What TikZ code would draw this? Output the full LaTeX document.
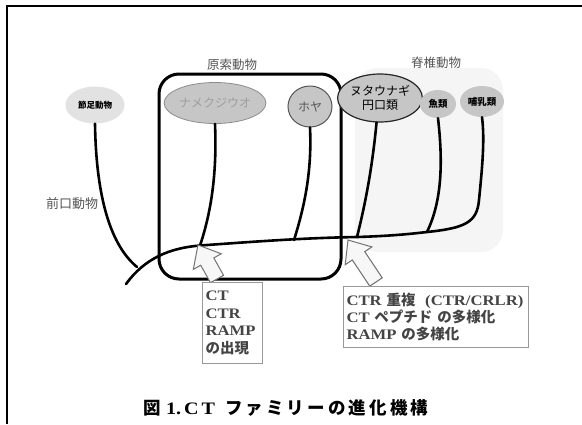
\documentclass[tikz,border=0pt]{standalone}
\usepackage{fontspec}
\setmainfont{Liberation Serif}[FakeStretch=1.15]
\newfontfamily\jp{Noto Sans CJK JP}
\newfontfamily\jpcap{Noto Sans CJK JP}[LetterSpace=18]
\usetikzlibrary{calc,shapes.geometric}
\definecolor{txtgray}{HTML}{555555}
\definecolor{boxtxt}{HTML}{444444}
\definecolor{bggray}{HTML}{F5F5F5}
\definecolor{ovalA}{HTML}{E2E2E2}
\definecolor{ovalB}{HTML}{C6C6C6}
\definecolor{ovalline}{HTML}{555555}
\newcommand\blockarr[2]{%
  \coordinate (ab) at ($(#1)!19pt!(#2)$);
  \draw[blockarrow] (#1) -- ($(ab)!16pt!90:(#1)$) -- ($(ab)!7.5pt!90:(#1)$)
    -- ($(#2)!7.5pt!90:(ab)$) -- ($(#2)!7.5pt!-90:(ab)$)
    -- ($(ab)!7.5pt!-90:(#1)$) -- ($(ab)!16pt!-90:(#1)$) -- cycle;}
\tikzset{
  grouplabel/.style={font=\jp\fontsize{12.5}{14}\selectfont, text=txtgray, inner sep=0pt},
  taxon/.style={ellipse, inner sep=0pt, fill=ovalB},
  branch/.style={line width=2.6pt, line cap=round},
  groupbox/.style={line width=3pt, rounded corners=20pt},
  blockarrow/.style={draw=black!55, line width=1pt, fill=black!3, line join=miter},
  infobox/.style={draw=black!40, line width=1pt, fill=white, text=boxtxt, align=left,
    font=\bfseries\fontsize{14.5}{17.5}\selectfont, inner sep=0pt, anchor=north west}
}
\begin{document}
\begin{tikzpicture}[x=1pt,y=-1pt]
\useasboundingbox (0,0) rectangle (582,424);
\fill[white] (0,0) rectangle (582,424);
% frame
\draw[line width=2pt] (7,424) -- (7,6) -- (582,6);
% vertebrate background
\fill[bggray, rounded corners=22pt] (355,68) rectangle (503,252);
\node[grouplabel] (vlabel) at (436,63) {脊椎動物};
% protochordate box
\draw[groupbox] (159,74) rectangle (341,279);
\node[grouplabel] (plabel) at (232,65) {原索動物};
\node[grouplabel, font=\jp\fontsize{13}{14}\selectfont] (plabel2) at (72,204) {前口動物};
% taxa
\node[taxon, fill=ovalA, minimum width=59pt, minimum height=37pt,
      font=\jp\bfseries\fontsize{8.5}{10}\selectfont] (arth) at (95,105) {節足動物};
\node[taxon, draw=black!45, line width=0.8pt, minimum width=89pt, minimum height=41pt,
      text=black!38, font=\jp\fontsize{12}{14}\selectfont] (amph) at (215,103) {ナメクジウオ};
\node[taxon, draw=ovalline, line width=1pt, minimum width=44pt, minimum height=41pt,
      text=txtgray, font=\jp\fontsize{12}{14}\selectfont] (hoya) at (310,106.5) {ホヤ};
\node[taxon, draw=black!85, line width=1.2pt, minimum width=65pt, minimum height=48pt,
      align=center, font=\jp\fontsize{12}{14}\selectfont] (nuta) at (380,98) {ヌタウナギ\\円口類};
\node[taxon, minimum width=36pt, minimum height=28pt,
      font=\jp\bfseries\fontsize{9.5}{11}\selectfont] (fish) at (438,104) {魚類};
\node[taxon, minimum width=44pt, minimum height=31pt,
      font=\jp\bfseries\fontsize{9.5}{11}\selectfont] (mamm) at (482,101.5) {哺乳類};
% branch points
\coordinate (root) at (126,284);
\coordinate (jA) at (137,267);
\coordinate (jB) at (200,245.5);
\coordinate (jC) at (294,240);
\coordinate (jD) at (357,237);
\coordinate (jE) at (427,232);
% tree
\draw[branch] (root) .. controls (145,258) and (170,248) .. (jB)
  .. controls (250,242) and (300,238) .. (jD)
  .. controls (390,236) and (410,234) .. (jE)
  .. controls (466,228) and (477,222) .. (479,200)
  .. controls (482,170) and (485,140) .. (mamm.south);
\draw[branch] (arth.south) .. controls (96,190) and (108,243) .. (jA);
\draw[branch] (amph.south) .. controls (217,170) and (212,210) .. (jB);
\draw[branch] (hoya.south) .. controls (312,170) and (305,205) .. (jC);
\draw[branch] (nuta.262) .. controls (372,170) and (365,205) .. (jD);
\draw[branch] (fish.south) .. controls (444,170) and (440,205) .. (jE);
% arrows
\coordinate (t1) at (198,245);
\coordinate (s1) at (217,279);
\coordinate (t2) at (348,240);
\coordinate (s2) at (376,282);
\blockarr{t1}{s1}
\blockarr{t2}{s2}
% info boxes
\node[infobox, minimum width=59pt, minimum height=81pt, text width=54pt, inner xsep=3pt] (box1) at (202,282)
  {CT\\CTR\\RAMP\\{\jp の出現}};
\node[infobox, minimum width=184pt, minimum height=61pt, text width=179pt, inner xsep=3pt,
      font=\bfseries\fontsize{14.5}{17}\selectfont] (box2) at (343,286)
  {CTR {\jp 重複}~~(CTR/CRLR)\\CT {\jp ペプチド の多様化}\\RAMP {\jp の多様化}};
% caption
\node[font=\bfseries\fontsize{17.5}{19}\selectfont, inner sep=0pt] (cap) at (286,408)
  {{\jp 図} 1.\,C\,T\ \ {\jpcap ファミリーの進化機構}};
\end{tikzpicture}
\end{document}
